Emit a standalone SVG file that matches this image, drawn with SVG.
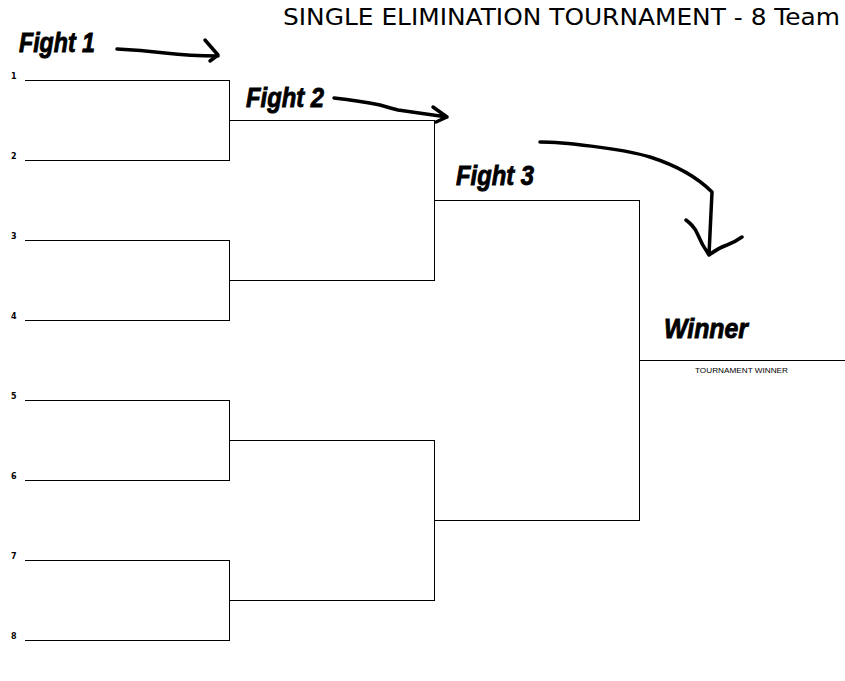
<svg xmlns="http://www.w3.org/2000/svg" width="845" height="681" viewBox="0 0 845 681">
<style>
.ln{fill:none;stroke:#000;stroke-width:1;shape-rendering:crispEdges}
.ar{fill:none;stroke:#000;stroke-width:3.5;stroke-linecap:round;stroke-linejoin:round}
.num{font-family:"DejaVu Sans","Liberation Sans",sans-serif;font-size:8px;font-weight:bold;fill:#000}
.fight{font-family:"Liberation Sans","DejaVu Sans",sans-serif;font-size:28px;font-weight:bold;font-style:italic;fill:#000;stroke:#000;stroke-width:0.9}
.title{font-family:"DejaVu Sans","Liberation Sans",sans-serif;font-size:23px;fill:#000}
.small{font-family:"Liberation Sans","DejaVu Sans",sans-serif;font-size:8px;fill:#000}
</style>
<rect width="845" height="681" fill="#fff"/>
<text class="title" x="283" y="25" textLength="557" lengthAdjust="spacingAndGlyphs">SINGLE ELIMINATION TOURNAMENT - 8 Team</text>
<g id="connectors">
<path class="ln" d="M24.5 80.5H229.5V160.5H24.5M229.5 120.5H434.5"/>
<path class="ln" d="M24.5 240.5H229.5V320.5H24.5M229.5 280.5H434.5"/>
<path class="ln" d="M24.5 400.5H229.5V480.5H24.5M229.5 440.5H434.5"/>
<path class="ln" d="M24.5 560.5H229.5V640.5H24.5M229.5 600.5H434.5"/>
<path class="ln" d="M434.5 120.5V280.5M434.5 200.5H639.5"/>
<path class="ln" d="M434.5 440.5V600.5M434.5 520.5H639.5"/>
<path class="ln" d="M639.5 200.5V520.5M639.5 360.5H845"/>
</g>
<g id="seeds">
<text class="num" x="11" y="79">1</text>
<text class="num" x="11" y="159">2</text>
<text class="num" x="11" y="239">3</text>
<text class="num" x="11" y="319">4</text>
<text class="num" x="11" y="399">5</text>
<text class="num" x="11" y="479">6</text>
<text class="num" x="11" y="559">7</text>
<text class="num" x="11" y="639">8</text>
</g>
<g id="fight1">
<text class="fight" x="19" y="52" textLength="76" lengthAdjust="spacingAndGlyphs">Fight 1</text>
<path class="ar" d="M117 49Q140 50 165 53T218 56M205 40L218 55L210 61"/>
</g>
<g id="fight2">
<text class="fight" x="246" y="107" textLength="78" lengthAdjust="spacingAndGlyphs">Fight 2</text>
<path class="ar" d="M334 98Q360 101 380 105Q390 108 398 110L447 117M433 107L447 117L436 122"/>
</g>
<g id="fight3">
<text class="fight" x="456" y="185" textLength="78" lengthAdjust="spacingAndGlyphs">Fight 3</text>
<path class="ar" d="M540 142C560 142 620 148 650 157C675 165 695 175 712 192C711 210 710 235 709 255M686 220Q694 226 697 233Q702 245 709 255Q718 248 727 245Q735 242 742 237"/>
</g>
<g id="winner">
<text class="fight" x="664" y="338" textLength="84" lengthAdjust="spacingAndGlyphs">Winner</text>
<text class="small" x="695" y="373" textLength="93" lengthAdjust="spacingAndGlyphs">TOURNAMENT WINNER</text>
</g>
</svg>
